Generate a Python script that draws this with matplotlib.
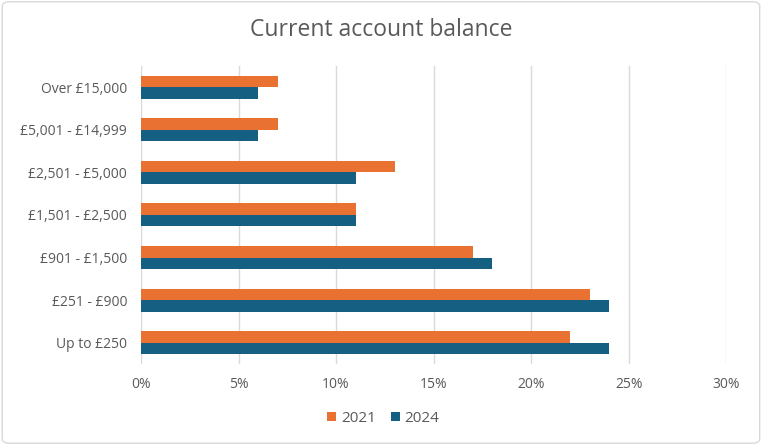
import matplotlib.pyplot as plt
import numpy as np
from matplotlib.patches import FancyBboxPatch

plt.rcParams['font.family'] = ['Open Sans', 'DejaVu Sans']

categories = ['Up to £250', '£251 - £900', '£901 - £1,500', '£1,501 - £2,500',
              '£2,501 - £5,000', '£5,001 - £14,999', 'Over £15,000']
share_2021 = [22, 23, 17, 11, 13, 7, 7]
share_2024 = [24, 24, 18, 11, 11, 6, 6]

orange = '#E97132'
blue = '#156082'
text_col = '#595959'

fig = plt.figure(figsize=(7.62, 4.45), dpi=100)
fig.patches.append(FancyBboxPatch((0.003, 0.004), 0.994, 0.992,
                                  boxstyle='round,pad=0,rounding_size=0.01',
                                  transform=fig.transFigure, fc='white',
                                  ec='#D9D9D9', lw=1, zorder=-10))
ax = fig.add_axes([0.185, 0.182, 0.768, 0.67])

y = np.arange(len(categories))
h = 0.27
ax.barh(y + h / 2, share_2021, height=h, color=orange, label='2021', zorder=3)
ax.barh(y - h / 2, share_2024, height=h, color=blue, label='2024', zorder=3)

ax.set_xlim(0, 30)
ax.set_ylim(-0.5, len(categories) - 0.5)
ax.set_xticks(range(0, 31, 5))
ax.set_xticklabels([f'{v}%' for v in range(0, 31, 5)])
ax.set_yticks(y)
ax.set_yticklabels(categories)
ax.tick_params(length=0, colors=text_col, labelsize=10)
ax.tick_params(axis='x', pad=9)
ax.tick_params(axis='y', pad=10)
ax.grid(axis='x', color='#D9D9D9', lw=1, zorder=0)
for s in ax.spines.values():
    s.set_visible(False)
ax.set_facecolor('none')

fig.text(0.5, 0.932, 'Current account balance', ha='center', va='center',
         fontsize=16.5, color=text_col)
fig.legend(loc='center', bbox_to_anchor=(0.503, 0.06), ncol=2, frameon=False,
           fontsize=11, labelcolor=text_col, handlelength=0.6, handleheight=0.6,
           handletextpad=0.3, columnspacing=1.0)

fig.savefig('out.png', dpi=100)
